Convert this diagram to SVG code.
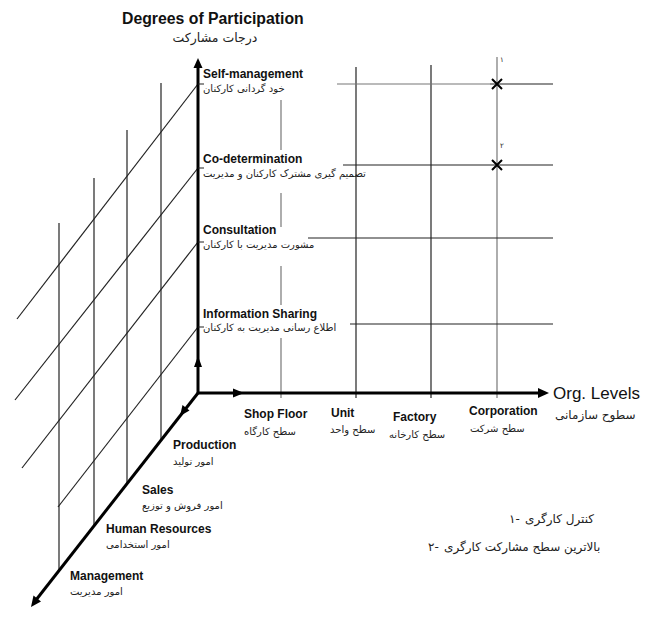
<svg xmlns="http://www.w3.org/2000/svg" width="651" height="633" viewBox="0 0 651 633">
<style>
.bg{fill:#fff}
.ax{stroke:#000;stroke-width:3;fill:none}
.gr{stroke:#222;stroke-width:1.2;fill:none}
.gl{stroke:#777;stroke-width:1.2;fill:none}
.hd{fill:#000}
.en{font-family:"Liberation Sans",Arial,sans-serif;font-weight:bold;font-size:12px;fill:#111}
.fa{font-family:"DejaVu Sans","Noto Sans",sans-serif;font-size:10px;fill:#222}
.fa-l{font-family:"DejaVu Sans","Noto Sans",sans-serif;font-size:12px;fill:#222}
.fa-s{font-family:"DejaVu Sans","Noto Sans",sans-serif;font-size:7px;fill:#222}
.ttl{font-family:"Liberation Sans",Arial,sans-serif;font-weight:bold;font-size:15.8px;fill:#111}
.org{font-family:"Liberation Sans",Arial,sans-serif;font-size:17px;fill:#111}
.xm{stroke:#000;stroke-width:2;fill:none}
</style>
<rect class="bg" x="0" y="0" width="651" height="633"/>
<g id="connectors">
  <line class="gr" x1="59" y1="223" x2="59" y2="571"/>
  <line class="gr" x1="94" y1="178" x2="94" y2="526"/>
  <line class="gr" x1="127" y1="130" x2="127" y2="484"/>
  <line class="gr" x1="161" y1="83" x2="161" y2="440"/>
  <line class="gr" x1="198" y1="84" x2="17" y2="319"/>
  <line class="gr" x1="198" y1="168" x2="15" y2="400"/>
  <line class="gr" x1="198" y1="242" x2="22" y2="468"/>
  <line class="gr" x1="198" y1="327" x2="58" y2="507"/>
  <line class="gl" x1="281" y1="100" x2="281" y2="150"/>
  <line class="gl" x1="281" y1="193" x2="281" y2="227"/>
  <line class="gl" x1="281" y1="266" x2="281" y2="305"/>
  <line class="gl" x1="281" y1="338" x2="281" y2="398"/>
  <line class="gr" x1="356" y1="67" x2="356" y2="398"/>
  <line class="gr" x1="431" y1="65" x2="431" y2="398"/>
  <line class="gl" x1="497" y1="57" x2="497" y2="398"/>
  <line class="gl" x1="337" y1="84" x2="490" y2="84"/>
  <line class="gr" x1="490" y1="84" x2="553" y2="84"/>
  <line class="gr" x1="343" y1="165" x2="553" y2="165"/>
  <line class="gr" x1="308" y1="238" x2="553" y2="238"/>
  <line class="gr" x1="350" y1="324" x2="553" y2="324"/>
  <path class="xm" d="M492 79 L502 89 M502 79 L492 89"/>
  <path class="xm" d="M492 160 L502 170 M502 160 L492 170"/>
  <line class="ax" x1="198" y1="393" x2="198" y2="66"/>
  <line class="ax" x1="197" y1="393" x2="540" y2="393"/>
  <line class="ax" x1="198" y1="393" x2="36" y2="600"/>
  <path class="gr" d="M198 84 H204 M198 168 H204 M198 242 H204 M198 327 H204"/>
  <polygon class="hd" points="198,58 193.5,68 202.5,68"/>
  <polygon class="hd" points="549,393 538,388 538,398"/>
  <polygon class="hd" points="31,607 33.5,595.5 41,601.5"/>
  <polygon class="hd" points="198,356 194,367 202,367"/>
  <polygon class="hd" points="244,393 233,388.5 233,397.5"/>
  <polygon class="hd" points="180,416 182.5,405 189.5,410.5"/>
</g>
<g id="title">
  <text class="ttl" x="122" y="24">Degrees of Participation</text>
  <text class="fa" x="215" y="42" text-anchor="middle" style="font-size:12.5px">درجات مشارکت</text>
</g>
<g id="self-management">
  <text class="en" x="203" y="78">Self-management</text>
  <text class="fa" x="203" y="92">خود گردانی کارکنان</text>
</g>
<g id="co-determination">
  <text class="en" x="203" y="163">Co-determination</text>
  <text class="fa" x="203" y="177">تصمیم گیری مشترک کارکنان و مدیریت</text>
</g>
<g id="consultation">
  <text class="en" x="203" y="234">Consultation</text>
  <text class="fa" x="203" y="248">مشورت مدیریت با کارکنان</text>
</g>
<g id="information-sharing">
  <text class="en" x="203" y="318">Information Sharing</text>
  <text class="fa" x="203" y="331">اطلاع رسانی مدیریت به کارکنان</text>
</g>
<g id="shop-floor">
  <text class="en" x="244" y="418">Shop Floor</text>
  <text class="fa" x="244" y="435">سطح کارگاه</text>
</g>
<g id="unit">
  <text class="en" x="331" y="417">Unit</text>
  <text class="fa" x="330" y="433">سطح واحد</text>
</g>
<g id="factory">
  <text class="en" x="393" y="421">Factory</text>
  <text class="fa" x="389" y="438">سطح کارخانه</text>
</g>
<g id="corporation">
  <text class="en" x="469" y="415">Corporation</text>
  <text class="fa" x="470" y="432">سطح شرکت</text>
</g>
<g id="org-levels">
  <text class="org" x="553" y="399">Org. Levels</text>
  <text class="fa" x="555" y="419" style="font-size:12px">سطوح سازمانی</text>
</g>
<g id="production">
  <text class="en" x="173" y="449">Production</text>
  <text class="fa" x="173" y="465">امور تولید</text>
</g>
<g id="sales">
  <text class="en" x="142" y="494">Sales</text>
  <text class="fa" x="142" y="509">امور فروش و توزیع</text>
</g>
<g id="human-resources">
  <text class="en" x="106" y="533">Human Resources</text>
  <text class="fa" x="106" y="548">امور استخدامی</text>
</g>
<g id="management">
  <text class="en" x="70" y="580">Management</text>
  <text class="fa" x="70" y="595">امور مدیریت</text>
</g>
<g id="markers">
  <text class="fa-s" x="500" y="62">۱</text>
  <text class="fa-s" x="500" y="148">۲</text>
</g>
<g id="legend">
  <text class="fa-l" x="509" y="523">۱-</text>
  <text class="fa-l" x="525" y="523">کنترل کارگری</text>
  <text class="fa-l" x="428" y="551">۲-</text>
  <text class="fa-l" x="444" y="551">بالاترین سطح مشارکت کارگری</text>
</g>
</svg>
